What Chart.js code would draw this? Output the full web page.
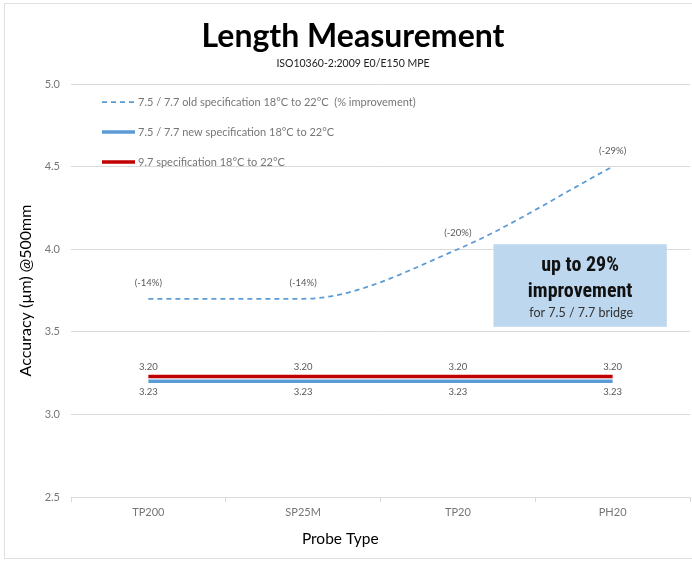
<!DOCTYPE html>
<html>
<head>
<meta charset="utf-8">
<script src="https://cdn.jsdelivr.net/npm/chart.js@4.4.1/dist/chart.umd.min.js"></script>
<style>
  html, body { margin: 0; padding: 0; background: #fff; }
  #wrap { width: 692px; height: 561px; }
</style>
</head>
<body>
<div id="wrap"><canvas id="length-chart" width="692" height="561"></canvas></div>
<script>
// probe types along the x axis
var probes = ['TP200', 'SP25M', 'TP20', 'PH20'];

// accuracy values (µm @500mm)
var oldSpec = [3.7, 3.7, 4.0, 4.5];
var oldImprovement = ['(-14%)', '(-14%)', '(-20%)', '(-29%)'];
var newSpec = [3.20, 3.20, 3.20, 3.20];
var spec97 = [3.23, 3.23, 3.23, 3.23];

var seriesNames = [
    '7.5 / 7.7 old specification 18°C to 22°C  (% improvement)',
    '7.5 / 7.7 new specification 18°C to 22°C',
    '9.7 specification 18°C to 22°C'
];

var yMin = 2.5, yMax = 5.0, yStep = 0.5;

var blue = 'rgb(91, 155, 213)';
var red = 'rgb(192, 0, 0)';
var grey = 'rgb(118, 118, 118)';
var gridGrey = 'rgb(217, 217, 217)';
var baseFont = "Lato, 'Open Sans', sans-serif";

// outer frame of the chart
var framePlugin = {
    id: 'frame',
    beforeDraw: function(chart) {
        var ctx = chart.ctx;
        ctx.save();
        ctx.fillStyle = '#fff';
        ctx.fillRect(0, 0, chart.width, chart.height);
        ctx.strokeStyle = 'rgb(224, 224, 224)';
        ctx.lineWidth = 1;
        ctx.strokeRect(4.5, 3.5, chart.width + 10, chart.height - 6);
        ctx.restore();
    }
};

// legend drawn inside the plot area, top left
var innerLegend = {
    id: 'innerLegend',
    afterDraw: function(chart) {
        var ctx = chart.ctx;
        var area = chart.chartArea;
        ctx.save();
        ctx.font = '11px ' + baseFont;
        ctx.textBaseline = 'middle';
        chart.data.datasets.forEach(function(ds, i) {
            var y = area.top + 18 + i * 30;
            var x = area.left + 31;
            ctx.strokeStyle = ds.borderColor;
            ctx.lineWidth = ds.borderWidth;
            ctx.setLineDash(ds.borderDash || []);
            ctx.beginPath();
            ctx.moveTo(x, y);
            ctx.lineTo(x + 33, y);
            ctx.stroke();
            ctx.setLineDash([]);
            ctx.fillStyle = grey;
            ctx.textAlign = 'left';
            ctx.fillText(ds.label, x + 36, y);
        });
        ctx.restore();
    }
};

// value labels next to each point
var pointLabels = {
    id: 'pointLabels',
    afterDatasetsDraw: function(chart) {
        var ctx = chart.ctx;
        ctx.save();
        ctx.font = '9.5px ' + baseFont;
        ctx.fillStyle = 'rgb(89, 89, 89)';
        ctx.textAlign = 'center';
        ctx.textBaseline = 'middle';
        chart.data.datasets.forEach(function(ds, i) {
            var meta = chart.getDatasetMeta(i);
            meta.data.forEach(function(pt, j) {
                var text, dy;
                if (i === 0) { text = oldImprovement[j]; dy = -16; }
                else if (i === 1) { text = ds.data[j].toFixed(2); dy = -14; }
                else { text = ds.data[j].toFixed(2); dy = 16; }
                ctx.fillText(text, pt.x, pt.y + dy);
            });
        });
        ctx.restore();
    }
};

// callout box on the right side, plus the x axis caption
var calloutBox = {
    id: 'calloutBox',
    afterDatasetsDraw: function(chart) {
        var ctx = chart.ctx;
        var xs = chart.scales.x, ys = chart.scales.y;
        var x0 = xs.getPixelForValue(2.23), x1 = xs.getPixelForValue(3.35);
        var y0 = ys.getPixelForValue(4.03), y1 = ys.getPixelForValue(3.53);
        var cx = (x0 + x1) / 2;
        ctx.save();
        ctx.fillStyle = 'rgb(189, 215, 238)';
        ctx.fillRect(x0, y0, x1 - x0, y1 - y0);
        ctx.fillStyle = '#111';
        ctx.textAlign = 'center';
        ctx.textBaseline = 'middle';
        ctx.font = "bold 20px 'Liberation Sans Narrow', 'Roboto Condensed', Roboto, sans-serif";
        ctx.fillText('up to 29%', cx, y0 + 22);
        ctx.fillText('improvement', cx, y0 + 48);
        ctx.fillStyle = '#333';
        ctx.font = '12.5px ' + baseFont;
        ctx.fillText('for 7.5 / 7.7 bridge', cx + 1, y0 + 69);

        // "Probe Type" sits a little left of the plot centre
        ctx.fillStyle = '#000';
        ctx.font = '15.5px ' + baseFont;
        ctx.fillText('Probe Type', xs.getPixelForValue(1.24), chart.chartArea.bottom + 42);
        ctx.restore();
    }
};

var ctx = document.getElementById('length-chart').getContext('2d');

var chart = new Chart(ctx, {
    type: 'line',
    data: {
        labels: probes,
        datasets: [{
            label: seriesNames[0],
            data: oldSpec,
            borderColor: blue,
            borderWidth: 1.75,
            borderDash: [5, 4],
            cubicInterpolationMode: 'monotone',
            pointRadius: 0,
            fill: false
        }, {
            label: seriesNames[1],
            data: newSpec,
            borderColor: blue,
            borderWidth: 3.5,
            pointRadius: 0,
            fill: false
        }, {
            label: seriesNames[2],
            data: spec97,
            borderColor: red,
            borderWidth: 3.5,
            pointRadius: 0,
            fill: false
        }]
    },
    options: {
        responsive: false,
        animation: false,
        layout: { padding: { left: 16, right: 2, top: 0, bottom: 0 } },
        plugins: {
            legend: { display: false },
            tooltip: { enabled: false },
            title: {
                display: true,
                text: 'Length Measurement',
                color: '#000',
                font: { family: baseFont, size: 32, weight: 'bold' },
                padding: { top: 17, bottom: 2 }
            },
            subtitle: {
                display: true,
                text: 'ISO10360-2:2009 E0/E150 MPE',
                color: '#222',
                font: { family: baseFont, size: 10.5 },
                padding: { top: 0, bottom: 14 }
            }
        },
        scales: {
            x: {
                offset: true,
                afterFit: function(scale) { scale.height = 64; },
                grid: {
                    offset: true,
                    drawOnChartArea: false,
                    drawTicks: true,
                    tickLength: 5,
                    color: gridGrey
                },
                border: { display: true, color: gridGrey, width: 1 },
                ticks: {
                    color: grey,
                    font: { family: baseFont, size: 11 },
                    padding: 4
                }
            },
            y: {
                min: yMin,
                max: yMax,
                afterBuildTicks: function(scale) {
                    var t = [];
                    for (var v = yMin; v <= yMax + 1e-9; v += yStep) t.push({ value: +v.toFixed(1) });
                    scale.ticks = t;
                },
                afterFit: function(scale) { scale.width = 55; },
                grid: { color: gridGrey, drawTicks: false },
                border: { display: false },
                ticks: {
                    color: grey,
                    font: { family: baseFont, size: 11 },
                    padding: 11,
                    callback: function(v) { return Number(v).toFixed(1); }
                },
                title: {
                    display: true,
                    text: 'Accuracy (µm) @500mm',
                    color: '#000',
                    font: { family: baseFont, size: 16 },
                    padding: { top: 0, bottom: 0 }
                }
            }
        }
    },
    plugins: [framePlugin, pointLabels, calloutBox, innerLegend]
});
</script>
</body>
</html>
